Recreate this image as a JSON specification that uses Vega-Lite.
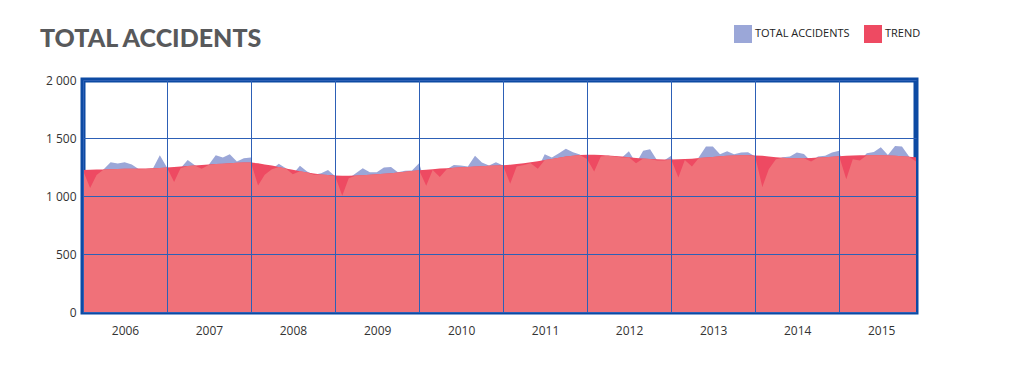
{
  "$schema": "https://vega.github.io/schema/vega-lite/v6.json",
  "width": 833,
  "height": 232,
  "autosize": {"type": "none"},
  "padding": {"left": 83, "top": 80, "right": 102, "bottom": 68},
  "background": "white",
  "title": {
    "text": "TOTAL ACCIDENTS",
    "anchor": "start",
    "frame": "group",
    "dx": -43,
    "dy": 26,
    "offset": -21,
    "baseline": "alphabetic",
    "fontSize": 25,
    "font": "Lato",
    "fontWeight": 900,
    "color": "#58595b"
  },
  "data": {
    "values": [
      {"date": "2006-01-01", "total": 1220, "trend": 1225},
      {"date": "2006-02-01", "total": 1068, "trend": 1226},
      {"date": "2006-03-01", "total": 1182, "trend": 1228},
      {"date": "2006-04-01", "total": 1231, "trend": 1229},
      {"date": "2006-05-01", "total": 1291, "trend": 1231},
      {"date": "2006-06-01", "total": 1280, "trend": 1232},
      {"date": "2006-07-01", "total": 1291, "trend": 1234},
      {"date": "2006-08-01", "total": 1271, "trend": 1235},
      {"date": "2006-09-01", "total": 1231, "trend": 1237},
      {"date": "2006-10-01", "total": 1232, "trend": 1238},
      {"date": "2006-11-01", "total": 1237, "trend": 1240},
      {"date": "2006-12-01", "total": 1351, "trend": 1242},
      {"date": "2007-01-01", "total": 1245, "trend": 1246},
      {"date": "2007-02-01", "total": 1120, "trend": 1250},
      {"date": "2007-03-01", "total": 1240, "trend": 1255},
      {"date": "2007-04-01", "total": 1311, "trend": 1259},
      {"date": "2007-05-01", "total": 1268, "trend": 1263},
      {"date": "2007-06-01", "total": 1234, "trend": 1267},
      {"date": "2007-07-01", "total": 1268, "trend": 1271},
      {"date": "2007-08-01", "total": 1351, "trend": 1275},
      {"date": "2007-09-01", "total": 1331, "trend": 1279},
      {"date": "2007-10-01", "total": 1360, "trend": 1283},
      {"date": "2007-11-01", "total": 1297, "trend": 1286},
      {"date": "2007-12-01", "total": 1326, "trend": 1289},
      {"date": "2008-01-01", "total": 1331, "trend": 1288},
      {"date": "2008-02-01", "total": 1091, "trend": 1282},
      {"date": "2008-03-01", "total": 1183, "trend": 1272},
      {"date": "2008-04-01", "total": 1231, "trend": 1262},
      {"date": "2008-05-01", "total": 1277, "trend": 1250},
      {"date": "2008-06-01", "total": 1240, "trend": 1238},
      {"date": "2008-07-01", "total": 1188, "trend": 1226},
      {"date": "2008-08-01", "total": 1260, "trend": 1214},
      {"date": "2008-09-01", "total": 1211, "trend": 1203},
      {"date": "2008-10-01", "total": 1183, "trend": 1194},
      {"date": "2008-11-01", "total": 1197, "trend": 1186},
      {"date": "2008-12-01", "total": 1225, "trend": 1180},
      {"date": "2009-01-01", "total": 1170, "trend": 1176},
      {"date": "2009-02-01", "total": 1002, "trend": 1174},
      {"date": "2009-03-01", "total": 1154, "trend": 1174},
      {"date": "2009-04-01", "total": 1197, "trend": 1176},
      {"date": "2009-05-01", "total": 1240, "trend": 1179},
      {"date": "2009-06-01", "total": 1205, "trend": 1183},
      {"date": "2009-07-01", "total": 1205, "trend": 1187},
      {"date": "2009-08-01", "total": 1245, "trend": 1192},
      {"date": "2009-09-01", "total": 1251, "trend": 1197},
      {"date": "2009-10-01", "total": 1205, "trend": 1203},
      {"date": "2009-11-01", "total": 1217, "trend": 1209},
      {"date": "2009-12-01", "total": 1220, "trend": 1215},
      {"date": "2010-01-01", "total": 1283, "trend": 1221},
      {"date": "2010-02-01", "total": 1088, "trend": 1226},
      {"date": "2010-03-01", "total": 1225, "trend": 1231},
      {"date": "2010-04-01", "total": 1163, "trend": 1236},
      {"date": "2010-05-01", "total": 1231, "trend": 1240},
      {"date": "2010-06-01", "total": 1268, "trend": 1244},
      {"date": "2010-07-01", "total": 1263, "trend": 1248},
      {"date": "2010-08-01", "total": 1254, "trend": 1251},
      {"date": "2010-09-01", "total": 1346, "trend": 1254},
      {"date": "2010-10-01", "total": 1288, "trend": 1257},
      {"date": "2010-11-01", "total": 1263, "trend": 1260},
      {"date": "2010-12-01", "total": 1291, "trend": 1263},
      {"date": "2011-01-01", "total": 1263, "trend": 1266},
      {"date": "2011-02-01", "total": 1105, "trend": 1270},
      {"date": "2011-03-01", "total": 1254, "trend": 1276},
      {"date": "2011-04-01", "total": 1268, "trend": 1283},
      {"date": "2011-05-01", "total": 1283, "trend": 1291},
      {"date": "2011-06-01", "total": 1234, "trend": 1300},
      {"date": "2011-07-01", "total": 1360, "trend": 1310},
      {"date": "2011-08-01", "total": 1331, "trend": 1320},
      {"date": "2011-09-01", "total": 1368, "trend": 1330},
      {"date": "2011-10-01", "total": 1408, "trend": 1340},
      {"date": "2011-11-01", "total": 1377, "trend": 1347},
      {"date": "2011-12-01", "total": 1357, "trend": 1353},
      {"date": "2012-01-01", "total": 1320, "trend": 1356},
      {"date": "2012-02-01", "total": 1211, "trend": 1356},
      {"date": "2012-03-01", "total": 1340, "trend": 1354},
      {"date": "2012-04-01", "total": 1346, "trend": 1350},
      {"date": "2012-05-01", "total": 1340, "trend": 1345},
      {"date": "2012-06-01", "total": 1331, "trend": 1340},
      {"date": "2012-07-01", "total": 1386, "trend": 1334},
      {"date": "2012-08-01", "total": 1283, "trend": 1328},
      {"date": "2012-09-01", "total": 1391, "trend": 1323},
      {"date": "2012-10-01", "total": 1403, "trend": 1319},
      {"date": "2012-11-01", "total": 1306, "trend": 1316},
      {"date": "2012-12-01", "total": 1306, "trend": 1315},
      {"date": "2013-01-01", "total": 1346, "trend": 1315},
      {"date": "2013-02-01", "total": 1160, "trend": 1316},
      {"date": "2013-03-01", "total": 1311, "trend": 1318},
      {"date": "2013-04-01", "total": 1254, "trend": 1322},
      {"date": "2013-05-01", "total": 1334, "trend": 1327},
      {"date": "2013-06-01", "total": 1426, "trend": 1332},
      {"date": "2013-07-01", "total": 1426, "trend": 1337},
      {"date": "2013-08-01", "total": 1360, "trend": 1342},
      {"date": "2013-09-01", "total": 1386, "trend": 1346},
      {"date": "2013-10-01", "total": 1360, "trend": 1349},
      {"date": "2013-11-01", "total": 1374, "trend": 1351},
      {"date": "2013-12-01", "total": 1377, "trend": 1352},
      {"date": "2014-01-01", "total": 1340, "trend": 1350},
      {"date": "2014-02-01", "total": 1077, "trend": 1346},
      {"date": "2014-03-01", "total": 1231, "trend": 1340},
      {"date": "2014-04-01", "total": 1317, "trend": 1334},
      {"date": "2014-05-01", "total": 1334, "trend": 1329},
      {"date": "2014-06-01", "total": 1340, "trend": 1326},
      {"date": "2014-07-01", "total": 1374, "trend": 1325},
      {"date": "2014-08-01", "total": 1363, "trend": 1326},
      {"date": "2014-09-01", "total": 1297, "trend": 1328},
      {"date": "2014-10-01", "total": 1340, "trend": 1331},
      {"date": "2014-11-01", "total": 1346, "trend": 1334},
      {"date": "2014-12-01", "total": 1374, "trend": 1338},
      {"date": "2015-01-01", "total": 1390, "trend": 1342},
      {"date": "2015-02-01", "total": 1145, "trend": 1346},
      {"date": "2015-03-01", "total": 1317, "trend": 1349},
      {"date": "2015-04-01", "total": 1306, "trend": 1351},
      {"date": "2015-05-01", "total": 1369, "trend": 1352},
      {"date": "2015-06-01", "total": 1380, "trend": 1352},
      {"date": "2015-07-01", "total": 1420, "trend": 1351},
      {"date": "2015-08-01", "total": 1354, "trend": 1349},
      {"date": "2015-09-01", "total": 1431, "trend": 1346},
      {"date": "2015-10-01", "total": 1426, "trend": 1343},
      {"date": "2015-11-01", "total": 1340, "trend": 1339},
      {"date": "2015-12-01", "total": 1297, "trend": 1335}
    ]
  },
  "encoding": {
    "x": {
      "field": "date",
      "type": "temporal",
      "scale": {"type": "utc", "domain": [{"year": 2006, "month": 1, "date": 1, "utc": true}, {"year": 2015, "month": 12, "date": 1, "utc": true}]},
      "axis": {
        "title": null,
        "values": [
          {"year": 2006, "month": 1, "date": 1, "utc": true},
          {"year": 2007, "month": 1, "date": 1, "utc": true},
          {"year": 2008, "month": 1, "date": 1, "utc": true},
          {"year": 2009, "month": 1, "date": 1, "utc": true},
          {"year": 2010, "month": 1, "date": 1, "utc": true},
          {"year": 2011, "month": 1, "date": 1, "utc": true},
          {"year": 2012, "month": 1, "date": 1, "utc": true},
          {"year": 2013, "month": 1, "date": 1, "utc": true},
          {"year": 2014, "month": 1, "date": 1, "utc": true},
          {"year": 2015, "month": 1, "date": 1, "utc": true}
        ],
        "format": "%Y",
        "labelOffset": 42,
        "labelBound": false,
        "labelFlush": false,
        "labelOverlap": false,
        "labelPadding": 13,
        "domain": false,
        "ticks": false,
        "grid": true,
        "gridColor": "#2d60b6",
        "gridWidth": 1,
        "zindex": 1
      }
    }
  },
  "layer": [
    {
      "mark": {"type": "area", "interpolate": "linear"},
      "encoding": {
        "y": {
          "field": "total",
          "type": "quantitative",
          "scale": {"domain": [0, 2000]},
          "axis": {
            "title": null,
            "values": [0, 500, 1000, 1500, 2000],
            "labelExpr": "replace(format(datum.value, ','), ',', ' ')",
            "domain": false,
            "ticks": false,
            "grid": true,
            "gridColor": "#2d60b6",
            "gridWidth": 1,
            "labelPadding": 7,
            "zindex": 1
          }
        },
        "color": {
          "datum": "TOTAL ACCIDENTS",
          "type": "nominal",
          "scale": {"domain": ["TOTAL ACCIDENTS", "TREND"], "range": ["#9ba7d8", "#ee4a62"]},
          "legend": {
            "orient": "none",
            "legendX": 651,
            "legendY": -55,
            "direction": "horizontal",
            "title": null,
            "symbolType": "square",
            "symbolSize": 324,
            "symbolStrokeWidth": 0,
            "symbolOpacity": 1,
            "labelFontSize": 11,
            "labelFont": "Open Sans",
            "labelColor": "#222222",
            "labelOffset": 3,
            "columnPadding": 14,
            "padding": 0
          }
        }
      }
    },
    {
      "mark": {"type": "area", "interpolate": "linear"},
      "encoding": {
        "y": {"field": "trend", "type": "quantitative", "title": null},
        "color": {"datum": "TREND", "type": "nominal"}
      }
    },
    {
      "transform": [
        {"fold": ["total", "trend"]},
        {"aggregate": [{"op": "min", "field": "value", "as": "low"}], "groupby": ["date"]}
      ],
      "mark": {"type": "area", "interpolate": "linear", "color": "#f07179", "opacity": 1},
      "encoding": {
        "y": {"field": "low", "type": "quantitative", "title": null}
      }
    }
  ],
  "config": {
    "view": {"stroke": "#0d4aa3", "strokeWidth": 5},
    "axis": {"labelFont": "Open Sans", "labelFontSize": 12, "labelColor": "#333333"}
  }
}
